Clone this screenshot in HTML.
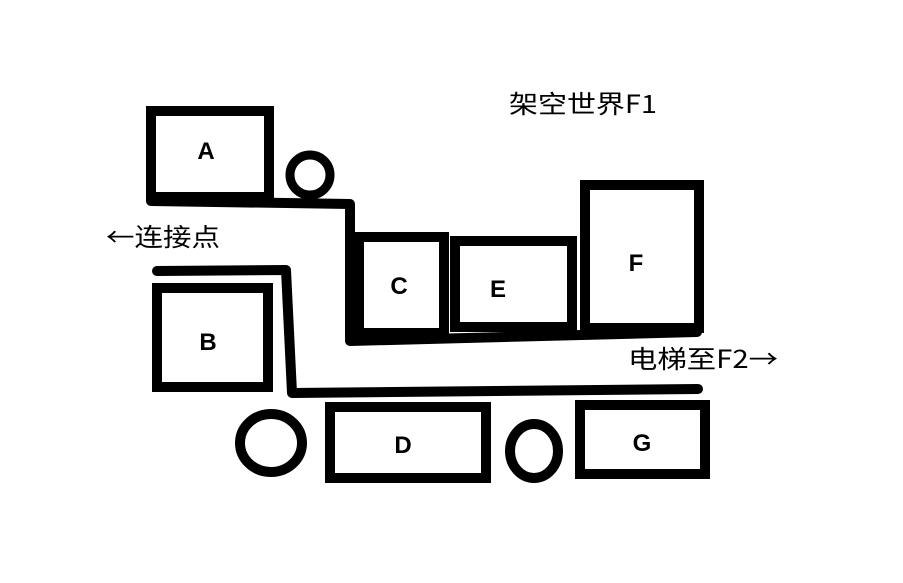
<!DOCTYPE html>
<html><head><meta charset="utf-8"><style>
body{margin:0;background:#fff;}
svg{display:block;}
text{font-family:"Liberation Sans","Noto Sans CJK SC",sans-serif;}
.cjk{font-family:"Noto Sans CJK SC",sans-serif;}
</style></head><body>
<svg width="903" height="583" viewBox="0 0 903 583" xmlns="http://www.w3.org/2000/svg">
<rect width="903" height="583" fill="#fff"/>
<g fill="none" stroke="#000" stroke-width="10" stroke-linecap="round" stroke-linejoin="round">
<rect x="151" y="111" width="118" height="86" stroke-linecap="butt" stroke-linejoin="miter"/>
<circle cx="310" cy="175" r="20" stroke-width="9"/>
<polyline points="151,201 350,204 350,341 697,332"/>
<rect x="359" y="237" width="85" height="96" stroke-linejoin="miter"/>
<rect x="455" y="241" width="117" height="86" stroke-linejoin="miter"/>
<rect x="585" y="185" width="114" height="143" stroke-linejoin="miter"/>
<polyline points="157,271 286,270 292,393 698,389"/>
<rect x="157" y="288" width="111" height="99" stroke-linejoin="miter"/>
<ellipse cx="271" cy="443" rx="31" ry="29"/>
<rect x="330" y="407" width="156" height="71" stroke-linejoin="miter"/>
<ellipse cx="534" cy="451" rx="24" ry="27"/>
<rect x="580" y="405" width="125" height="69" stroke-linejoin="miter"/>
</g>
<g font-weight="bold" font-size="24" text-anchor="middle" fill="#000">
<text x="206" y="159">A</text>
<text x="208" y="350">B</text>
<text x="399" y="294">C</text>
<text x="498" y="297">E</text>
<text x="636" y="271">F</text>
<text x="403" y="453">D</text>
<text x="642" y="451">G</text>
</g>
<g font-size="25" fill="#000" class="cjk">
<text class="cjk" x="509" y="113" textLength="148" lengthAdjust="spacingAndGlyphs">架空世界F1</text>
<text class="cjk" x="106" y="246" textLength="114" lengthAdjust="spacingAndGlyphs">←连接点</text>
<text class="cjk" x="628" y="368" textLength="150" lengthAdjust="spacingAndGlyphs">电梯至F2→</text>
</g>
</svg>
</body></html>
